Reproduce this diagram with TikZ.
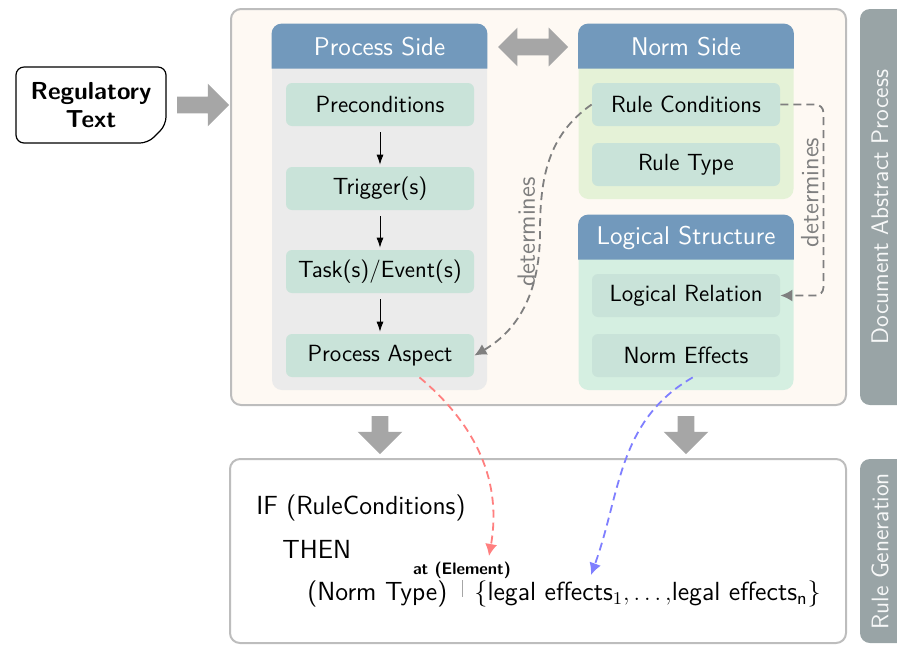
\documentclass[tikz,border=0pt]{standalone}
\usetikzlibrary{shapes.arrows,arrows.meta}
\renewcommand{\familydefault}{\sfdefault}

\definecolor{headBlue}{HTML}{7299BC}
\definecolor{procGray}{HTML}{EBEBEB}
\definecolor{normGreen}{HTML}{E5F2D7}
\definecolor{logicMint}{HTML}{D5EFE1}
\definecolor{itemTeal}{HTML}{C9E3D9}
\definecolor{frameCream}{HTML}{FEF9F3}
\definecolor{frameLine}{HTML}{BDBDBD}
\definecolor{blockGray}{HTML}{A6A6A6}
\definecolor{tabGray}{HTML}{99A4A6}
\definecolor{detGray}{HTML}{7F7F7F}
\definecolor{aspectRed}{HTML}{FF7F7F}
\definecolor{effectBlue}{HTML}{7F7FFF}

\begin{document}
\begin{tikzpicture}
[x=0.5pt,y=-0.5pt,
  frameDecorate/.style={draw=frameLine,line width=1pt,rounded corners=5pt,inner sep=0pt},
  panelDecorate/.style={rounded corners=5pt,inner sep=0pt,minimum width=107.5pt,minimum height=87.5pt},
  headDecorate/.style={text=white,inner sep=0pt,font=\fontsize{12.8}{15}\selectfont},
  itemDecorate/.style={fill=itemTeal,rounded corners=3pt,inner sep=0pt,minimum width=94pt,minimum height=21.5pt,font=\fontsize{11.7}{14}\selectfont},
  blockDecorate/.style={fill=blockGray,inner sep=0pt,inner ysep=4pt},
  tabDecorate/.style={text=white!92!tabGray,inner sep=0pt,rotate=90,font=\fontsize{12}{14}\selectfont},
  ruleDecorate/.style={anchor=west,inner sep=0pt,font=\fontsize{13.1}{15}\selectfont},
  arrowDecorate/.style={-{Latex[length=5pt,width=3.5pt]},shorten <=3pt,shorten >=1pt},
  dashDecorate/.style={line width=0.9pt,dash pattern=on 4pt off 2.5pt,-{Latex[length=6pt,width=6pt]}},
  labelDecorate/.style={rotate=90,anchor=south,inner sep=2pt,text=detGray,font=\fontsize{12.5}{14}\selectfont}]
\useasboundingbox (0,0) rectangle (897,645);

%% side tabs
\fill[tabGray,rounded corners=5pt] (860,9) rectangle (930,405);
\fill[tabGray,rounded corners=5pt] (860,459) rectangle (930,643);
\node[tabDecorate] (absTab) at (880,207) {Document Abstract Process};
\node[tabDecorate] (ruleTab) at (880,551) {Rule Generation};

%% input
\draw[line width=0.6pt,rounded corners=4pt,fill=white]
  (16,67) -- (166,67) -- (166,125) -- (148,143) -- (16,143) -- cycle;
\node[align=center,inner sep=0pt,font=\bfseries\fontsize{12.3}{14}\selectfont] (regText) at (91,105) {Regulatory\\Text};
\node[blockDecorate,single arrow,single arrow head extend=6.5pt,single arrow head indent=0pt,minimum height=26pt] (inArrow) at (199,105) {};

%% frames
\node[frameDecorate,fill=frameCream,minimum width=307.5pt,minimum height=198pt] (absFrame) at (538.5,207) {};
\node[frameDecorate,fill=white,minimum width=308pt,minimum height=92pt] (ruleFrame) at (538,551) {};

%% panels
\node[panelDecorate,fill=procGray,minimum height=183pt] (procPanel) at (379.5,207) {};
\node[panelDecorate,fill=normGreen] (normPanel) at (686,111.5) {};
\node[panelDecorate,fill=logicMint] (logicPanel) at (686,302.5) {};
\foreach \panelname/\headtext in {procPanel/Process Side, normPanel/Norm Side, logicPanel/Logical Structure}
{
  \fill[headBlue] (\panelname.north west) ++(0,45) [rounded corners=5pt] -- (\panelname.north west)
    -- (\panelname.north east) [sharp corners] -- ++(0,45) -- cycle;
  \path (\panelname.north) ++(0,23) node[headDecorate] (\panelname-head) {\headtext};
}
\node[blockDecorate,double arrow,double arrow head extend=5.5pt,double arrow head indent=0pt,minimum height=35pt] (sideArrow) at (533,47) {};

%% items
\foreach \nodename/\x/\y/\itemtext in {preCond/380/104.5/Preconditions, trigger/380/188.5/Trigger(s),
  taskEvent/380/271.5/{Task(s)/Event(s)}, procAspect/380/355.5/Process Aspect,
  ruleCond/686/104.5/Rule Conditions, ruleType/686/164.5/Rule Type,
  logicRel/686/295.5/Logical Relation, normEff/686/355.5/Norm Effects}
{
  \node (\nodename) at (\x,\y) [itemDecorate] {\itemtext};
}
\foreach \startnode/\endnode in {preCond/trigger, trigger/taskEvent, taskEvent/procAspect}
{
  \draw[arrowDecorate] (\startnode) -- (\endnode);
}

%% determines
\coordinate (detBend) at (540,232);
\draw[dashDecorate,detGray] (ruleCond.west) to[out=215,in=90] (detBend)
  node[labelDecorate] {determines} to[out=-90,in=30] (procAspect.east);
\draw[dashDecorate,detGray,rounded corners=4pt] (ruleCond.east) -- ++(43,0)
  |- node[labelDecorate,pos=0.23] {determines} (logicRel.east);

%% down arrows
\node[blockDecorate,single arrow,single arrow head extend=7pt,single arrow head indent=0pt,minimum height=19pt,rotate=-90] (downLeft) at (380,431) {};
\node[blockDecorate,single arrow,single arrow head extend=7pt,single arrow head indent=0pt,minimum height=19pt,rotate=-90] (downRight) at (686,431) {};

%% rule text
\node[ruleDecorate] (ifLine) at (256,508) {IF (RuleConditions)};
\node[ruleDecorate] (thenLine) at (282,549) {THEN};
\node[ruleDecorate] (normType) at (307,594) {(Norm Type)};
\node[inner sep=0pt,font=\bfseries\fontsize{8.3}{10}\selectfont] (atElem) at (462,570) {at (Element)};
\draw[gray!70,line width=0.5pt] (462,580) -- (462,597);
\node[ruleDecorate] (legalEff) at (474,594) {\{legal effects$_1,\ldots,$legal effects$_{\mathsf{n}}$\}};

\coordinate (elemTip) at (489,556);
\coordinate (effTip) at (591,575);
\draw[dashDecorate,aspectRed] (procAspect.-29) to[out=-40,in=80] (elemTip);
\draw[dashDecorate,effectBlue] (normEff.-73) to[out=-150,in=70] (effTip);
\end{tikzpicture}
\end{document}
